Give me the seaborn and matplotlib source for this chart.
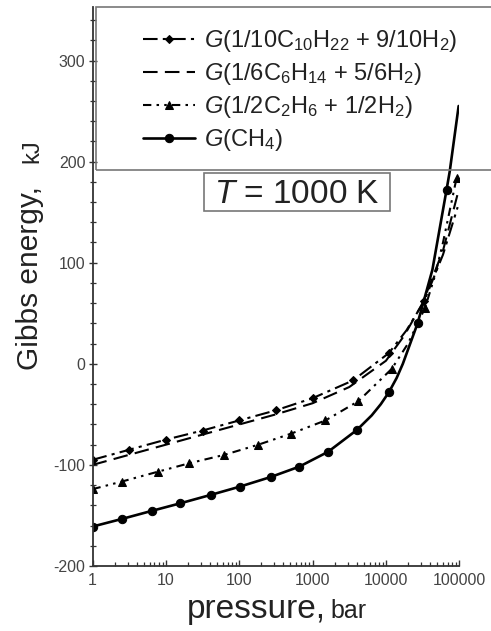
import matplotlib
matplotlib.use("Agg")
import matplotlib.pyplot as plt
import matplotlib.ticker as mticker
from matplotlib.patches import Rectangle
import seaborn as sns

# values: pressure in bar, Gibbs energy in kJ
p_decane = [1, 3.16, 10, 31.6, 100, 316, 1000, 3550, 10960, 19000, 33100, 60000, 95000]
g_decane = [-95, -85, -75, -66, -56, -46, -34, -16.5, 10.6, 33, 61.7, 108, 155]
mark_decane = [0, 1, 2, 3, 4, 5, 6, 7, 8, 10]

p_hexane = [1, 3.16, 10, 31.6, 100, 316, 1000, 3160, 10000, 17800, 31600, 60000, 95000]
g_hexane = [-100, -90, -80, -70, -60, -50, -39, -23, 3, 28, 60, 112, 168]

p_ethane = [1, 2.5, 7.9, 21, 63, 182, 513, 1500, 4200, 12000, 20000, 34000, 47000,
            60000, 92000]
g_ethane = [-124, -116.5, -106.6, -98.3, -90, -80, -69, -56, -37, -5, 20, 55, 88,
            120, 184]
mark_ethane = [0, 1, 2, 3, 4, 5, 6, 7, 8, 9, 11, 14]

p_methane = [1, 2.5, 6.4, 15.7, 40.7, 102, 268, 660, 1630, 4040, 6400, 8500, 11000,
             14000, 17000, 27000, 43000, 67000, 74000, 98000]
g_methane = [-161, -153.5, -145.5, -138, -129.7, -121.5, -112, -101.7, -87, -65.3,
             -51, -40, -28, -14, 0, 40, 93, 172, 190, 255]
mark_methane = [0, 1, 2, 3, 4, 5, 6, 7, 8, 9, 12, 15, 17]

labels = [
    r"$G$(1/10C$_{10}$H$_{22}$ + 9/10H$_2$)",
    r"$G$(1/6C$_6$H$_{14}$ + 5/6H$_2$)",
    r"$G$(1/2C$_2$H$_6$ + 1/2H$_2$)",
    r"$G$(CH$_4$)",
]

sns.set_theme(style="white")
plt.rcParams["font.family"] = ["Liberation Sans", "DejaVu Sans"]
plt.rcParams["mathtext.fontset"] = "custom"
plt.rcParams["mathtext.rm"] = "Liberation Sans"
plt.rcParams["mathtext.it"] = "Liberation Sans:italic"
plt.rcParams["axes.unicode_minus"] = False

fig = plt.figure(figsize=(4.91, 6.31), dpi=100)
ax = fig.add_axes([0.1884, 0.103, 0.747, 0.886])

common = dict(ax=ax, color="black", markeredgecolor="black", sort=False)
sns.lineplot(x=p_decane, y=g_decane, label=labels[0], linestyle=(0, (7, 2.5, 1.5, 2.5)),
             linewidth=1.5, marker="D", markersize=4.5, markevery=mark_decane, **common)
sns.lineplot(x=p_hexane, y=g_hexane, label=labels[1], linestyle=(0, (7, 3.5)),
             linewidth=1.5, **common)
sns.lineplot(x=p_ethane, y=g_ethane, label=labels[2], linestyle=(0, (4, 2.5, 1.2, 2.5, 1.2, 2.5)),
             linewidth=1.5, marker="^", markersize=6, markevery=mark_ethane, **common)
sns.lineplot(x=p_methane, y=g_methane, label=labels[3], linestyle="-",
             linewidth=1.9, marker="o", markersize=6, markevery=mark_methane, **common)

ax.set_xscale("log")
ax.set_xlim(1, 1e5)
ax.set_ylim(-200, 353)
ax.xaxis.set_major_locator(mticker.LogLocator(base=10, numticks=10))
ax.xaxis.set_minor_locator(mticker.LogLocator(base=10, subs=range(2, 10), numticks=10))
ax.xaxis.set_major_formatter(mticker.FuncFormatter(lambda v, _: f"{v:.0f}"))
ax.xaxis.set_minor_formatter(mticker.NullFormatter())
ax.yaxis.set_major_locator(mticker.MultipleLocator(100))
ax.yaxis.set_minor_locator(mticker.MultipleLocator(20))

for s in ["top", "right"]:
    ax.spines[s].set_visible(False)
for s in ["left", "bottom"]:
    ax.spines[s].set_color("#333333")
    ax.spines[s].set_linewidth(1.3)

ax.tick_params(axis="x", which="both", direction="in", bottom=True, colors="#333333",
               labelcolor="#444444", labelsize=11.5, pad=5)
ax.tick_params(axis="x", which="major", length=4.5, width=1)
ax.tick_params(axis="x", which="minor", length=3, width=0.9)
ax.tick_params(axis="y", which="both", direction="inout", left=True, colors="#333333",
               labelcolor="#444444", labelsize=11.5, pad=2)
ax.tick_params(axis="y", which="major", length=6, width=1)
ax.tick_params(axis="y", which="minor", length=4, width=0.9)
ax.set_xlabel("")
ax.set_ylabel("")

# axis titles, the unit set smaller as in the original
title_kw = dict(color="#222222", rotation_mode="anchor", va="baseline", ha="left")
fig.text(38 / 491, 1 - 370 / 631, "Gibbs energy,", rotation=90, fontsize=21.5, **title_kw)
fig.text(38 / 491, 1 - 163 / 631, "kJ", rotation=90, fontsize=17, **title_kw)
fig.text(187 / 491, 1 - 618 / 631, "pressure,", fontsize=24, **title_kw)
fig.text(330 / 491, 1 - 618 / 631, "bar", fontsize=18, **title_kw)

# box behind the legend, open to the right edge
fig.patches.append(Rectangle((96 / 491, 1 - 170 / 631), 1.0, 163 / 631,
                             transform=fig.transFigure, fill=False,
                             edgecolor="#777777", linewidth=1.2, clip_on=False))

leg = ax.legend(loc="upper left", bbox_to_anchor=(143 / 491, 1 - 28 / 631),
                bbox_transform=fig.transFigure, frameon=False, fontsize=17,
                handlelength=2.2, handletextpad=0.4, labelspacing=0.3,
                borderaxespad=0, borderpad=0)
for t in leg.get_texts():
    t.set_color("#222222")

# temperature tag
ax.add_patch(Rectangle((0.304, 0.635), 0.507, 0.068, transform=ax.transAxes,
                       facecolor="white", edgecolor="#777777", linewidth=1.2, zorder=5))
ax.text(0.5575, 0.6494, r"$T$ = 1000 K", transform=ax.transAxes, ha="center",
        va="baseline", fontsize=24, color="#222222", zorder=6)

fig.savefig("out.png", dpi=100)
